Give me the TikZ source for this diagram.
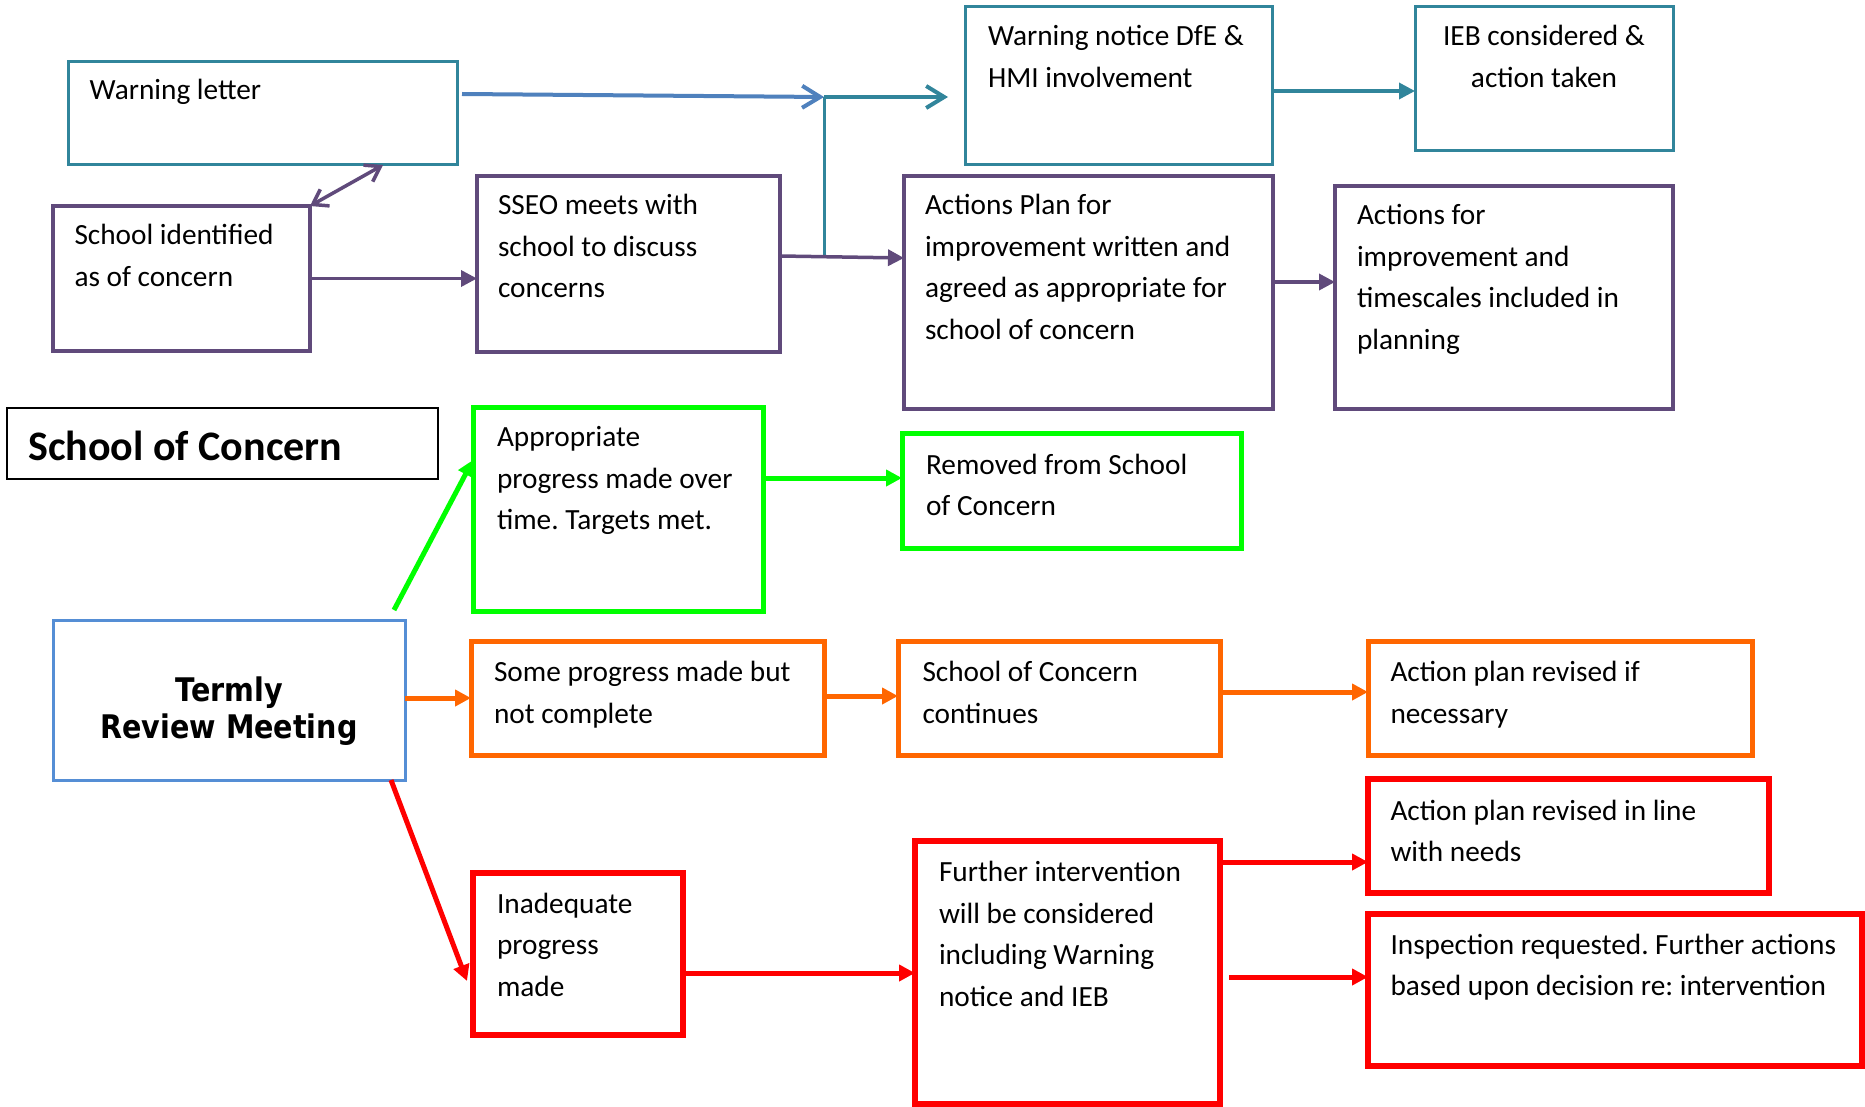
\documentclass[tikz,border=0pt]{standalone}
\usepackage{fontspec}
\setmainfont{Carlito}
\newfontfamily\meetingfont[FakeStretch=0.88]{DejaVu Sans}
\usetikzlibrary{arrows.meta,calc}
\frenchspacing

\definecolor{tealc}{RGB}{49,133,155}
\definecolor{bluec}{RGB}{79,129,189}
\definecolor{meetc}{RGB}{85,142,213}
\definecolor{purpc}{RGB}{96,74,123}
\definecolor{greenc}{RGB}{0,255,0}
\definecolor{orangec}{RGB}{255,102,0}
\definecolor{redc}{RGB}{255,0,0}

% left-aligned and centred multi-line text, baseline on the first line
\newcommand\lefttext[1]{\begin{tabular}[t]{@{}l@{}}#1\end{tabular}}
\newcommand\centretext[1]{\begin{tabular}[t]{@{}c@{}}#1\end{tabular}}

\begin{document}
\begin{tikzpicture}[x=1pt,y=-1pt,
  box/.style={draw, rectangle, inner sep=0pt, outer sep=0pt, anchor=north west},
  tealbox/.style={box, draw=tealc, line width=3pt},
  purpbox/.style={box, draw=purpc, line width=3.2pt},
  blackbox/.style={box, draw=black, line width=2pt},
  greenbox/.style={box, draw=greenc, line width=5pt},
  orbox/.style={box, draw=orangec, line width=5pt},
  redbox/.style={box, draw=redc, line width=5.5pt},
  meetbox/.style={box, draw=meetc, line width=3pt},
  txt/.style={inner sep=0pt, outer sep=0pt, anchor=base west, font=\fontsize{29.3}{41.5}\selectfont},
  ctxt/.style={txt, anchor=base},
  chev/.style={-{Straight Barb[length=18pt,width=22pt]}},
  tri/.style={-{Triangle[length=16pt,width=16pt]}},
  bluearr/.style={chev, draw=bluec, line width=4pt},
  tealline/.style={draw=tealc, line width=3pt},
  tealarr/.style={chev, draw=tealc, line width=4pt},
  tealtri/.style={tri, draw=tealc, fill=tealc, line width=3.5pt},
  purparr/.style={tri, draw=purpc, fill=purpc, line width=3.5pt},
  purpdbl/.style={{Straight Barb[length=14pt,width=19pt]}-{Straight Barb[length=14pt,width=19pt]}, draw=purpc, line width=3.5pt},
  greenarr/.style={tri, draw=greenc, fill=greenc, line width=5pt},
  orarr/.style={tri, draw=orangec, fill=orangec, line width=5pt},
  redarr/.style={tri, draw=redc, fill=redc, line width=5pt},
]
\useasboundingbox[fill=white] (0,0) rectangle (1865,1107);

% ---- boxes ----
\node[tealbox, minimum width=389pt, minimum height=103pt] (wl) at (68,62) {};
\node[purpbox, minimum width=257pt, minimum height=145pt] (sid) at (53,206) {};
\node[purpbox, minimum width=303pt, minimum height=176pt] (sseo) at (477,176) {};
\node[tealbox, minimum width=307pt, minimum height=158pt] (wn) at (965,7) {};
\node[tealbox, minimum width=258pt, minimum height=144pt] (ieb) at (1415,7) {};
\node[purpbox, minimum width=369pt, minimum height=233pt] (ap) at (904,176) {};
\node[purpbox, minimum width=338pt, minimum height=223pt] (af) at (1335,186) {};
\node[blackbox, minimum width=431pt, minimum height=71pt] (soc) at (7,408) {};
\node[greenbox, minimum width=290pt, minimum height=204pt] (appr) at (473,407) {};
\node[greenbox, minimum width=339pt, minimum height=115pt] (rem) at (902,433) {};
\node[meetbox, minimum width=352pt, minimum height=160pt] (trm) at (53,620) {};
\node[orbox, minimum width=353pt, minimum height=114pt] (some) at (471,641) {};
\node[orbox, minimum width=322pt, minimum height=114pt] (cont) at (898,641) {};
\node[orbox, minimum width=384pt, minimum height=114pt] (apr1) at (1368,641) {};
\node[redbox, minimum width=210pt, minimum height=162pt] (inad) at (473,873) {};
\node[redbox, minimum width=305pt, minimum height=263pt] (fur) at (915,841) {};
\node[redbox, minimum width=401pt, minimum height=114pt] (apr2) at (1368,779) {};
\node[redbox, minimum width=494pt, minimum height=152pt] (insp) at (1368,914) {};

% ---- texts ----
\node[txt] (wl-t) at (89.7,100) {Warning letter};
\node[txt] (sid-t) at (74.5,245) {\lefttext{School identified\\as of concern}};
\node[txt] (sseo-t) at (498,215) {\lefttext{SSEO meets with\\school to discuss\\concerns}};
\node[txt] (wn-t) at (988,45.7) {\lefttext{Warning notice DfE \&\\HMI involvement}};
\node[ctxt] (ieb-t) at (1544,45.7) {\centretext{IEB considered \&\\action taken}};
\node[txt] (ap-t) at (925,215) {\lefttext{Actions Plan for\\improvement written and\\agreed as appropriate for\\school of concern}};
\node[txt] (af-t) at (1357,225) {\lefttext{Actions for\\improvement and\\timescales included in\\planning}};
\node[txt, font=\fontsize{42}{50}\selectfont\bfseries] (soc-t) at (28.3,460) {School of Concern};
\node[txt] (appr-t) at (497,446.7) {\lefttext{Appropriate\\progress made over\\time. Targets met.}};
\node[txt] (rem-t) at (926,474) {\lefttext{Removed from School\\of Concern}};
\node[inner sep=0pt, anchor=base, font=\meetingfont\bfseries\fontsize{32.5}{37.5}\selectfont] (trm-t) at (229,701) {\centretext{Termly\\Review Meeting}};
\node[txt] (some-t) at (494,681.7) {\lefttext{Some progress made but\\not complete}};
\node[txt] (cont-t) at (922.5,681.7) {\lefttext{School of Concern\\continues}};
\node[txt] (apr1-t) at (1390.5,681.7) {\lefttext{Action plan revised if\\necessary}};
\node[txt] (inad-t) at (497,913.3) {\lefttext{Inadequate\\progress\\made}};
\node[txt] (fur-t) at (939,881.7) {\lefttext{Further intervention\\will be considered\\including Warning\\notice and IEB}};
\node[txt] (apr2-t) at (1390.5,820) {\lefttext{Action plan revised in line\\with needs}};
\node[txt] (insp-t) at (1390.5,954) {\lefttext{Inspection requested. Further actions\\based upon decision re: intervention}};

% ---- connectors ----
\coordinate (j1) at (824,97);
\coordinate (j2) at (824,256);
\draw[bluearr] ($(wl.east |- 0,94)+(5,0)$) -- (j1);
\draw[tealline] (j1) -- (j2);
\draw[tealarr] (j1) -- ($(wn.west |- j1)+(-17,0)$);
\draw[tealtri] (wn.east |- 0,91) -- (ieb.west |- 0,91);
\draw[purpdbl] (sid.north east) -- (383,0 |- wl.south);
\draw[purparr] (sid.east) -- (sid.east -| sseo.west);
\draw[purparr] (sseo.east |- j2) -- (ap.west |- 0,258);
\draw[purparr] (ap.east |- 0,282) -- (af.west |- 0,282);
\draw[greenarr] ($(trm.north east)+(-11,-10)$) -- (appr.west |- 0,460);
\draw[greenarr] (appr.east |- 0,478) -- (rem.west |- 0,478);
\draw[orarr] (trm.east |- 0,698) -- (some.west |- 0,698);
\draw[orarr] (some.east |- 0,696) -- (cont.west |- 0,696);
\draw[orarr] (cont.east |- 0,692) -- (apr1.west |- 0,692);
\draw[redarr] ($(trm.south east)+(-14,0)$) -- ($(inad.west |- 0,981)+(-6,0)$);
\draw[redarr] (inad.east |- 0,973) -- (fur.west |- 0,973);
\draw[redarr] (fur.east |- 0,862) -- (apr2.west |- 0,862);
\draw[redarr] ($(fur.east |- 0,977)+(9,0)$) -- (insp.west |- 0,977);
\end{tikzpicture}
\end{document}
